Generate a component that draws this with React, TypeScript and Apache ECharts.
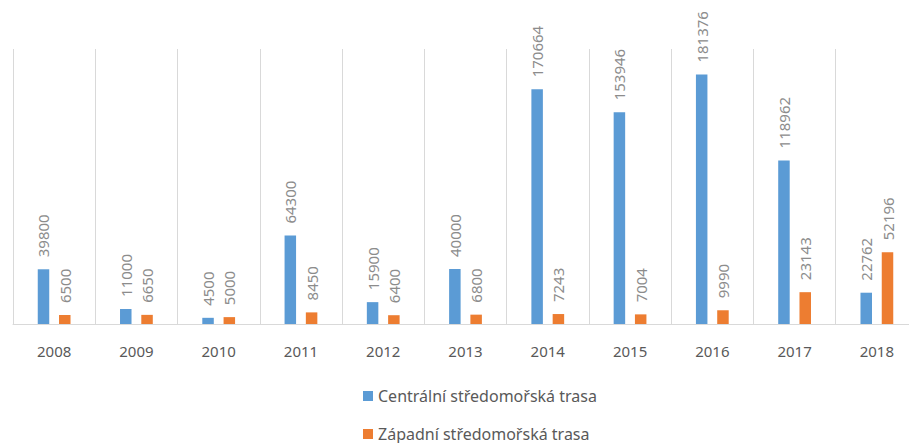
import React, { useEffect, useRef } from "react";
import * as echarts from "echarts";

const years = ["2008", "2009", "2010", "2011", "2012", "2013", "2014", "2015", "2016", "2017", "2018"];
const central = [39800, 11000, 4500, 64300, 15900, 40000, 170664, 153946, 181376, 118962, 22762];
const western = [6500, 6650, 5000, 8450, 6400, 6800, 7243, 7004, 9990, 23143, 52196];
const seriesNames = ["Centrální středomořská trasa", "Západní středomořská trasa"];

const FONT = "Noto Sans";

export default function App() {
  const ref = useRef<HTMLDivElement>(null);
  useEffect(() => {
    if (!ref.current) return;
    const chart = echarts.init(ref.current, undefined, { renderer: "svg" });
    const label = {
      show: true,
      position: "top" as const,
      rotate: 90,
      align: "left" as const,
      verticalAlign: "middle" as const,
      distance: 12,
      color: "#8c8c8c",
      fontSize: 15,
      fontFamily: FONT,
    };
    chart.setOption({
      animation: false,
      backgroundColor: "#ffffff",
      grid: {
        left: 13,
        width: 905,
        top: 49,
        height: 275,
        containLabel: false,
        outerBoundsMode: "none",
      },
      legend: {
        orient: "vertical",
        left: 363,
        top: 388,
        padding: 0,
        height: 60,
        itemWidth: 10,
        itemHeight: 10,
        itemGap: 22,
        icon: "rect",
        textStyle: { color: "#595959", fontSize: 16, fontFamily: FONT },
        data: seriesNames,
      },
      xAxis: {
        type: "category",
        data: years,
        boundaryGap: true,
        axisLine: { show: true, lineStyle: { color: "#d9d9d9", width: 1 } },
        axisTick: { show: false },
        splitLine: { show: true, lineStyle: { color: "#d9d9d9", width: 1 } },
        axisLabel: { color: "#595959", fontSize: 15, fontFamily: FONT, margin: 19 },
      },
      yAxis: {
        type: "value",
        min: 0,
        max: 200000,
        show: false,
        splitLine: { show: false },
      },
      series: [
        {
          name: seriesNames[0],
          type: "bar",
          data: central,
          barWidth: 11.5,
          barGap: "85%",
          itemStyle: { color: "#5B9BD5" },
          label,
        },
        {
          name: seriesNames[1],
          type: "bar",
          data: western,
          barWidth: 11.5,
          barGap: "85%",
          itemStyle: { color: "#ED7D31" },
          label,
        },
      ],
    });
    return () => chart.dispose();
  }, []);
  return <div ref={ref} style={{ position: "absolute", left: 0, top: 0, width: 909, height: 443 }} />;
}
